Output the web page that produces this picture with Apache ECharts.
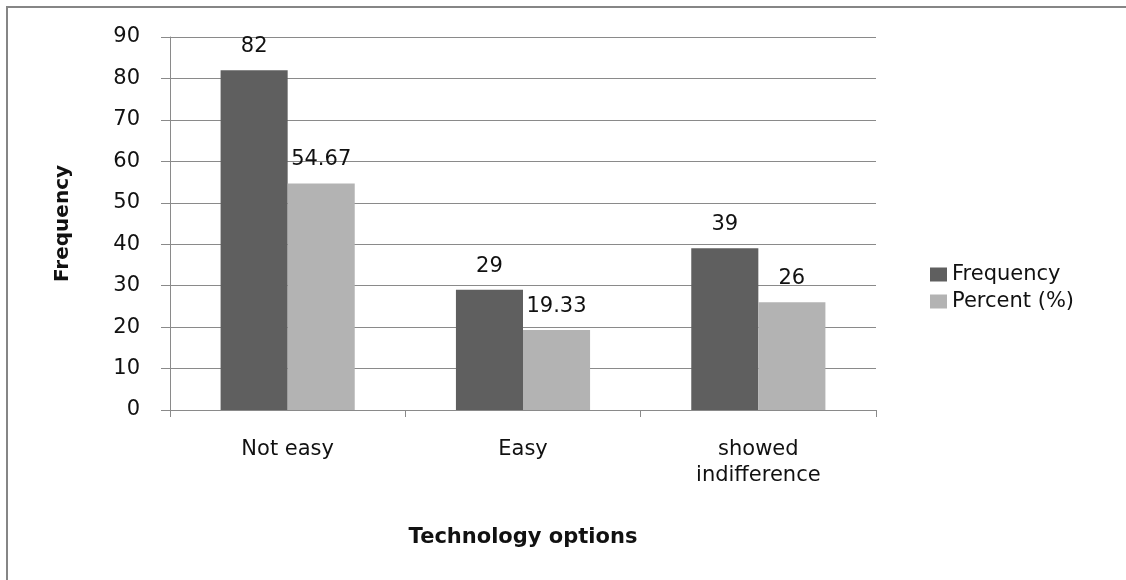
<!DOCTYPE html>
<html>
<head>
<meta charset="utf-8">
<script src="https://cdn.jsdelivr.net/npm/echarts@6/dist/echarts.min.js"></script>
<style>
  html, body { margin: 0; padding: 0; background: #fff; }
  #chart { width: 1126px; height: 580px; }
</style>
</head>
<body>
<div id="chart"></div>
<script>
// Responses on technology options
const categories = ['Not easy', 'Easy', 'showed\nindifference'];
const frequency = [82, 29, 39];
const percent = [54.67, 19.33, 26];
const yTicks = { min: 0, max: 90, interval: 10 };

const axisGray = '#8a8a8a';
const textFont = 'DejaVu Sans';

const chart = echarts.init(document.getElementById('chart'));

const labelStyle = {
  show: true,
  position: 'top',
  distance: 13,
  color: '#111',
  fontFamily: textFont,
  fontSize: 21
};

chart.setOption({
  backgroundColor: '#fff',
  animation: false,
  graphic: [{
    type: 'rect',
    shape: { x: 7, y: 7, width: 1200, height: 700 },
    style: { fill: 'none', stroke: '#868686', lineWidth: 2 },
    silent: true
  }],
  grid: { left: 170, right: 250, top: 37, bottom: 170, containLabel: false },
  legend: {
    orient: 'vertical',
    left: 925,
    top: 259,
    itemWidth: 17,
    itemHeight: 14,
    itemGap: 6,
    icon: 'rect',
    textStyle: { fontFamily: textFont, fontSize: 21, color: '#111' },
    data: ['Frequency', 'Percent (%)']
  },
  xAxis: {
    type: 'category',
    data: categories,
    name: 'Technology options',
    nameLocation: 'middle',
    nameGap: 117,
    nameTextStyle: { fontFamily: textFont, fontWeight: 'bold', fontSize: 21, color: '#111' },
    axisLine: { show: true, lineStyle: { color: axisGray, width: 1 } },
    axisTick: { show: true, length: 7, alignWithLabel: false, lineStyle: { color: axisGray } },
    axisLabel: { fontFamily: textFont, fontSize: 21, color: '#111', margin: 27, lineHeight: 26, interval: 0 }
  },
  yAxis: {
    type: 'value',
    min: yTicks.min,
    max: yTicks.max,
    interval: yTicks.interval,
    name: 'Frequency',
    nameLocation: 'middle',
    nameGap: 97,
    nameRotate: 90,
    nameTextStyle: { fontFamily: textFont, fontWeight: 'bold', fontSize: 20, color: '#111' },
    axisLine: { show: true, lineStyle: { color: axisGray, width: 1 } },
    axisTick: { show: true, length: 9, lineStyle: { color: axisGray } },
    axisLabel: { fontFamily: textFont, fontSize: 21, color: '#111', margin: 30 },
    splitLine: { show: true, lineStyle: { color: axisGray, width: 1 } }
  },
  series: [
    {
      name: 'Frequency',
      type: 'bar',
      data: frequency,
      barGap: '0%',
      barCategoryGap: '43%',
      itemStyle: { color: '#5f5f5f' },
      label: labelStyle
    },
    {
      name: 'Percent (%)',
      type: 'bar',
      data: percent,
      itemStyle: { color: '#b3b3b3' },
      label: labelStyle
    }
  ]
});
</script>
</body>
</html>
